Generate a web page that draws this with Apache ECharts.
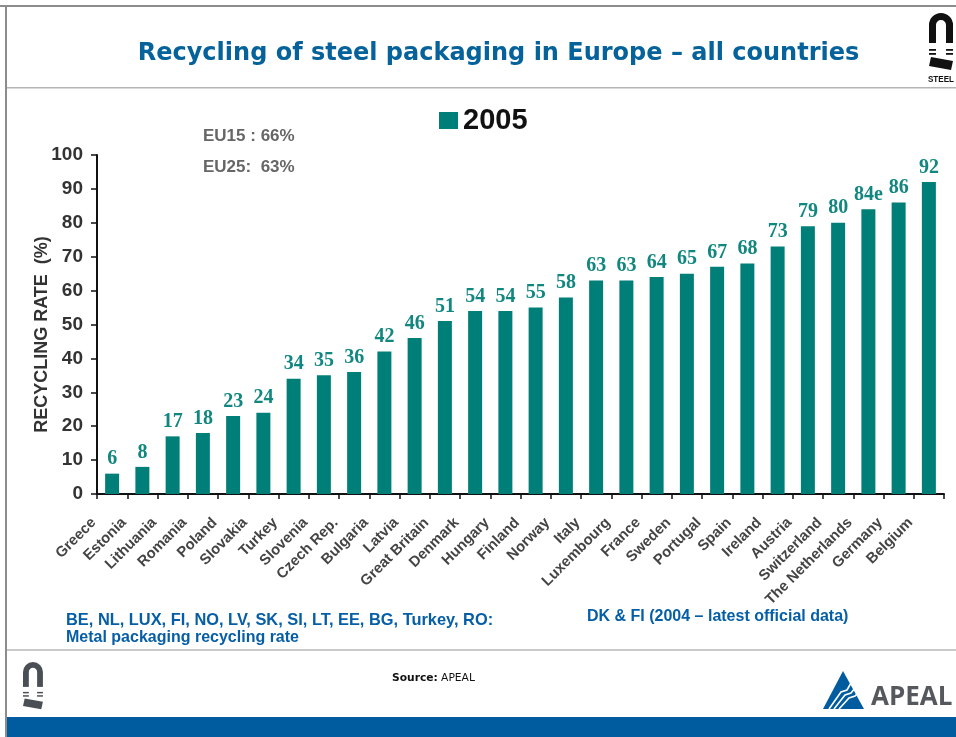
<!DOCTYPE html>
<html><head><meta charset="utf-8">
<style>html,body{margin:0;padding:0;background:#fff}#c{width:956px;height:737px}</style>
<script src="https://cdn.jsdelivr.net/npm/echarts@6/dist/echarts.min.js"></script>
</head><body><div id="c"></div>
<script>
const countries = ['Greece','Estonia','Lithuania','Romania','Poland','Slovakia','Turkey','Slovenia','Czech Rep.','Bulgaria','Latvia','Great Britain','Denmark','Hungary','Finland','Norway','Italy','Luxembourg','France','Sweden','Portugal','Spain','Ireland','Austria','Switzerland','The Netherlands','Germany','Belgium'];
const rates = [6,8,17,18,23,24,34,35,36,42,46,51,54,54,55,58,63,63,64,65,67,68,73,79,80,84,86,92];
const rateNotes = {'The Netherlands':'e'};
const yRange = [0,100];
const seriesName = '2005';
const TEAL = '#007f79', BLUE = '#065fa6', BAND = '#005c9e', TITLE = '#06629a', GREY = '#8c8c8c', DARK = '#333333';

const chart = echarts.init(document.getElementById('c'), null, {renderer:'canvas'});

// Horseshoe magnet emblem used in header and footer
function magnet(x, y, s, color) {
  const cx = x + 12*s, cy = y + 12*s;
  const out = [
    {type:'sector', shape:{cx, cy, r:12*s, r0:5*s, startAngle:Math.PI, endAngle:2*Math.PI, clockwise:true}, style:{fill:color}},
    {type:'rect', shape:{x:x, y:cy, width:7*s, height:18*s}, style:{fill:color}},
    {type:'rect', shape:{x:x+17*s, y:cy, width:7*s, height:18*s}, style:{fill:color}}
  ];
  [36,40].forEach(d => {
    out.push({type:'rect', shape:{x:x,y:y+d*s,width:7*s,height:1.8*s}, style:{fill:color}});
    out.push({type:'rect', shape:{x:x+17*s,y:y+d*s,width:7*s,height:1.8*s}, style:{fill:color}});
  });
  out.push({type:'polygon', shape:{points:[[x+2*s,y+44*s],[x+24*s,y+48*s],[x+22*s,y+57*s],[x,y+53*s]]}, style:{fill:color}});
  return out;
}

const frame = [
  {type:'rect', shape:{x:0,y:5,width:956,height:2}, style:{fill:GREY}},
  {type:'rect', shape:{x:5,y:5,width:2,height:732}, style:{fill:GREY}},
  {type:'rect', shape:{x:7,y:87,width:949,height:1.5}, style:{fill:'#b5b5b5'}},
  {type:'rect', shape:{x:7,y:649,width:949,height:2}, style:{fill:'#c9c9c9'}},
  {type:'rect', shape:{x:7,y:717,width:949,height:20}, style:{fill:BAND}},
  {type:'text', x:498.5, y:54, style:{text:'Recycling of steel packaging in Europe – all countries', fill:TITLE, font:'bold 24px "DejaVu Sans"', textAlign:'center', textVerticalAlign:'middle'}},
  {type:'text', x:941, y:79, scaleX:0.85, style:{text:'STEEL', fill:'#111', font:'bold 9.5px "Liberation Sans"', textAlign:'center', textVerticalAlign:'middle'}},
  {type:'text', x:203, y:136, style:{text:'EU15 : 66%', fill:'#666', font:'bold 17px "Liberation Sans"', textVerticalAlign:'middle'}},
  {type:'text', x:203, y:167, style:{text:'EU25:  63%', fill:'#666', font:'bold 17px "Liberation Sans"', textVerticalAlign:'middle'}},
  {type:'text', x:66, y:620, style:{text:'BE, NL, LUX, FI, NO, LV, SK, SI, LT, EE, BG, Turkey, RO:', fill:BLUE, font:'bold 16.4px "Liberation Sans"', textVerticalAlign:'middle'}},
  {type:'text', x:66, y:638, style:{text:'Metal packaging recycling rate', fill:BLUE, font:'bold 16px "Liberation Sans"', textVerticalAlign:'middle'}},
  {type:'text', x:587, y:617, style:{text:'DK & FI (2004 – latest official data)', fill:BLUE, font:'bold 16px "Liberation Sans"', textVerticalAlign:'middle'}},
  {type:'text', x:392, y:678, style:{rich:{b:{font:'bold 10.7px "DejaVu Sans"',fill:'#111'},n:{font:'10.7px "DejaVu Sans"',fill:'#111'}}, text:'{b|Source:} {n|APEAL}', textVerticalAlign:'middle'}},
  // APEAL mark and wordmark
  {type:'polygon', shape:{points:[[843,671],[864,709],[823,709]]}, style:{fill:BAND}},
  {type:'polyline', shape:{points:[[829,709],[841,692],[847,690],[851,683]]}, style:{stroke:'#fff',lineWidth:1.6,fill:null}},
  {type:'polyline', shape:{points:[[834,709],[845,695],[851,693],[855,688]]}, style:{stroke:'#fff',lineWidth:1.6,fill:null}},
  {type:'polyline', shape:{points:[[839,709],[849,698],[855,696],[858,693]]}, style:{stroke:'#fff',lineWidth:1.6,fill:null}},
  {type:'text', x:871, y:698, style:{text:'APEAL', fill:'#55585c', font:'bold 26px "Open Sans"', textVerticalAlign:'middle'}},
  ...magnet(929,13,1,'#111'),
  ...magnet(23,662,0.83,'#4a4f55')
];

chart.setOption({
  animation:false,
  backgroundColor:'#fff',
  legend:{
    data:[seriesName], left:434, top:101, itemWidth:19, itemHeight:17, itemGap:6,
    icon:'rect',
    textStyle:{fontFamily:'Liberation Sans', fontWeight:'bold', fontSize:29, color:'#111'}
  },
  grid:{left:97,right:12,top:155,bottom:243},
  xAxis:{
    type:'category', data:countries,
    axisLine:{lineStyle:{color:'#111',width:2}},
    axisTick:{show:true,alignWithLabel:false,length:5,lineStyle:{color:'#111',width:1.5}},
    axisLabel:{interval:0,rotate:45,margin:8,padding:[0,26,0,0],fontFamily:'Liberation Sans',fontWeight:'bold',fontSize:14.8,color:'#444'}
  },
  yAxis:{
    type:'value', min:yRange[0], max:yRange[1], interval:10,
    name:'RECYCLING RATE  (%)', nameLocation:'middle', nameGap:46, nameRotate:90, nameMoveOverlap:false,
    nameTextStyle:{fontFamily:'Liberation Sans',fontWeight:'bold',fontSize:18,color:'#333',padding:[0,20,0,0]},
    axisLine:{show:true,lineStyle:{color:'#111',width:2}},
    axisTick:{show:true,length:6,lineStyle:{color:'#111',width:1.5}},
    splitLine:{show:false},
    axisLabel:{margin:14,fontFamily:'Liberation Sans',fontWeight:'bold',fontSize:19,color:DARK}
  },
  series:[{
    name:seriesName, type:'bar', data:rates, barWidth:14,
    itemStyle:{color:TEAL},
    label:{
      show:true, position:'top', distance:4.5,
      fontFamily:'Liberation Serif', fontWeight:'bold', fontSize:20, color:'#128780',
      formatter:p => p.value + (rateNotes[p.name] || '')
    }
  }],
  graphic:frame
});
</script></body></html>
